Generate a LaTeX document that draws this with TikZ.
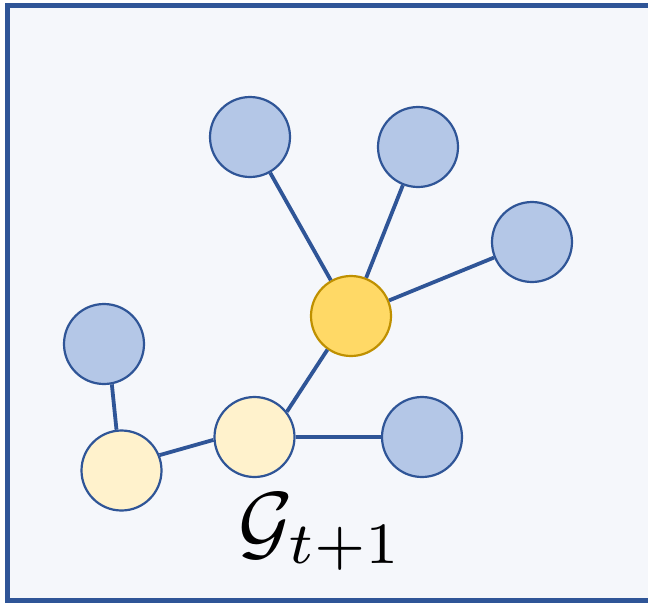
\documentclass[tikz,border=0pt]{standalone}
\usepackage{amsmath}
\definecolor{frameblue}{HTML}{2F5597}
\definecolor{nodeblue}{HTML}{B4C7E7}
\definecolor{gold}{HTML}{FFD966}
\definecolor{goldline}{HTML}{BF9000}
\definecolor{paleyellow}{HTML}{FFF2CC}
\definecolor{bg}{HTML}{F5F7FB}
\begin{document}
\begin{tikzpicture}[x=1pt,y=-1pt,
  bluenode/.style={circle,draw=frameblue,fill=nodeblue,line width=2.2pt,minimum size=80pt,inner sep=0pt},
  hubnode/.style={circle,draw=goldline,fill=gold,line width=2.2pt,minimum size=80pt,inner sep=0pt},
  palenode/.style={circle,draw=frameblue,fill=paleyellow,line width=2.2pt,minimum size=80pt,inner sep=0pt},
  edge/.style={draw=frameblue,line width=3.8pt}]
\useasboundingbox (0,0) rectangle (648,603);
\begin{scope}
\clip (0,0) rectangle (648,603);
\draw[draw=frameblue,fill=bg,line width=5pt] (7.5,5.5) rectangle (670,600);
\end{scope}
\node[bluenode] (tl) at (250,137) {};
\node[bluenode] (tm) at (418,147) {};
\node[bluenode] (r) at (532,242) {};
\node[hubnode] (hub) at (351,316) {};
\node[bluenode] (l) at (104,344) {};
\node[bluenode] (bm) at (422,437) {};
\node[palenode] (pm) at (254.5,437) {};
\node[palenode] (pl) at (121.5,470.5) {};
\path[edge] (hub) -- (tl);
\path[edge] (hub) -- (tm);
\path[edge] (hub) -- (r);
\path[edge] (hub.235) -- (pm.38);
\path[edge] (pm) -- (bm);
\path[edge] (pm.184) -- (pl.22);
\path[edge] (pl.97) -- (l.281);
\node[inner sep=0pt] (label) at (321,532) {\resizebox{164pt}{!}{$\mathcal{G}_{t+1}$}};
\end{tikzpicture}
\end{document}
